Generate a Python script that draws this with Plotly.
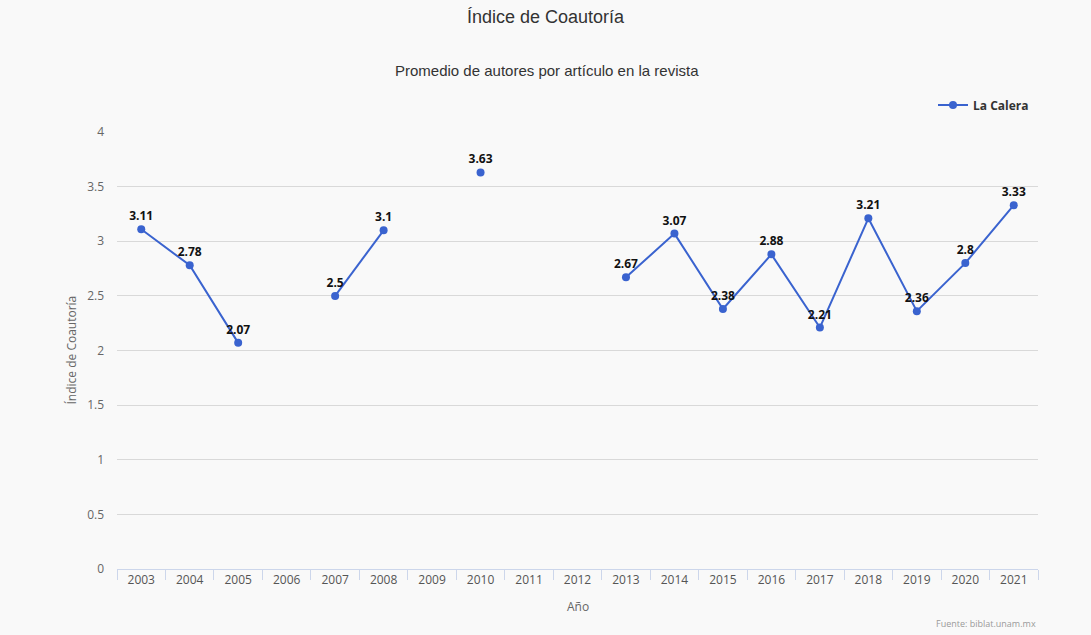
import plotly.graph_objects as go

years = [str(y) for y in range(2003, 2022)]
values = [3.11, 2.78, 2.07, None, 2.5, 3.1, None, 3.63, None, None,
          2.67, 3.07, 2.38, 2.88, 2.21, 3.21, 2.36, 2.8, 3.33]
labels = ["" if v is None else f"{v:g}" for v in values]
y_ticks = [0, 0.5, 1, 1.5, 2, 2.5, 3, 3.5, 4]
y_ticktext = ["0", "0.5", "1", "1.5", "2", "2.5", "3", "3.5", "4"]

series_name = "La Calera"
title = "Índice de Coautoría"
subtitle = "Promedio de autores por artículo en la revista"
y_title = "Índice de Coautoría"
x_title = "Año"
credit = "Fuente: biblat.unam.mx"

color = "#3a63cf"
bg = "#f9f9f9"

fig = go.Figure()
fig.add_trace(go.Scatter(
    x=years, y=values, name=series_name, mode="lines+markers+text",
    text=labels, textposition="top center",
    textfont=dict(family="Open Sans", size=12, color="#111111", weight="bold"),
    line=dict(color=color, width=2),
    marker=dict(color=color, size=8),
    connectgaps=False,
    cliponaxis=False,
))

W, H = 1091, 635
L, R, T, B = 117, 53, 132, 66
pw, ph = W - L - R, H - T - B

def px_x(x):
    return (x - L) / pw

def px_y(y):
    return (H - B - y) / ph

fig.update_layout(
    width=W, height=H,
    margin=dict(l=L, r=R, t=T, b=B),
    paper_bgcolor=bg, plot_bgcolor=bg,
    font=dict(family="Open Sans", color="#666666"),
    title=dict(text=title, x=0.5, xanchor="center", y=1 - 17 / H, yanchor="middle",
               font=dict(family="Liberation Sans", size=18, color="#333333")),
    showlegend=True,
    legend=dict(x=px_x(1034), xanchor="right", y=px_y(105), yanchor="middle",
                bgcolor="rgba(0,0,0,0)", itemwidth=30,
                font=dict(family="Open Sans", size=12, color="#333333", weight="bold")),
    xaxis=dict(type="category", range=[-0.5, 18.5], tickson="boundaries",
               ticks="outside", ticklen=10, tickcolor="#ccd6eb", tickwidth=1,
               showline=True, linecolor="#ccd6eb", linewidth=1,
               showgrid=False, zeroline=False,
               tickfont=dict(family="Open Sans", size=12, color="#555555")),
    yaxis=dict(range=[0, 4], tickvals=y_ticks, ticktext=y_ticktext,
               showgrid=True, gridcolor="#d9d9d9", gridwidth=1,
               zeroline=False, showline=False, ticks="",
               ticklabelstandoff=12,
               tickfont=dict(family="Open Sans", size=12, color="#666666")),
    annotations=[
        dict(text=subtitle, xref="paper", yref="paper", x=px_x(547), y=px_y(71),
             xanchor="center", yanchor="middle", showarrow=False,
             font=dict(family="Liberation Sans", size=15, color="#333333")),
        dict(text=y_title, xref="paper", yref="paper", x=px_x(71), y=0.5,
             xanchor="center", yanchor="middle", showarrow=False, textangle=-90,
             font=dict(family="Open Sans", size=12, color="#666666")),
        dict(text=x_title, xref="paper", yref="paper", x=0.5, y=px_y(606),
             xanchor="center", yanchor="middle", showarrow=False,
             font=dict(family="Open Sans", size=12, color="#666666")),
        dict(text=credit, xref="paper", yref="paper", x=1, y=px_y(623),
             xanchor="right", yanchor="middle", showarrow=False,
             font=dict(family="Open Sans", size=9, color="#999999")),
    ],
)

fig.write_html("out.html", config={"displayModeBar": False},
               post_script="document.body.style.margin='0';")
